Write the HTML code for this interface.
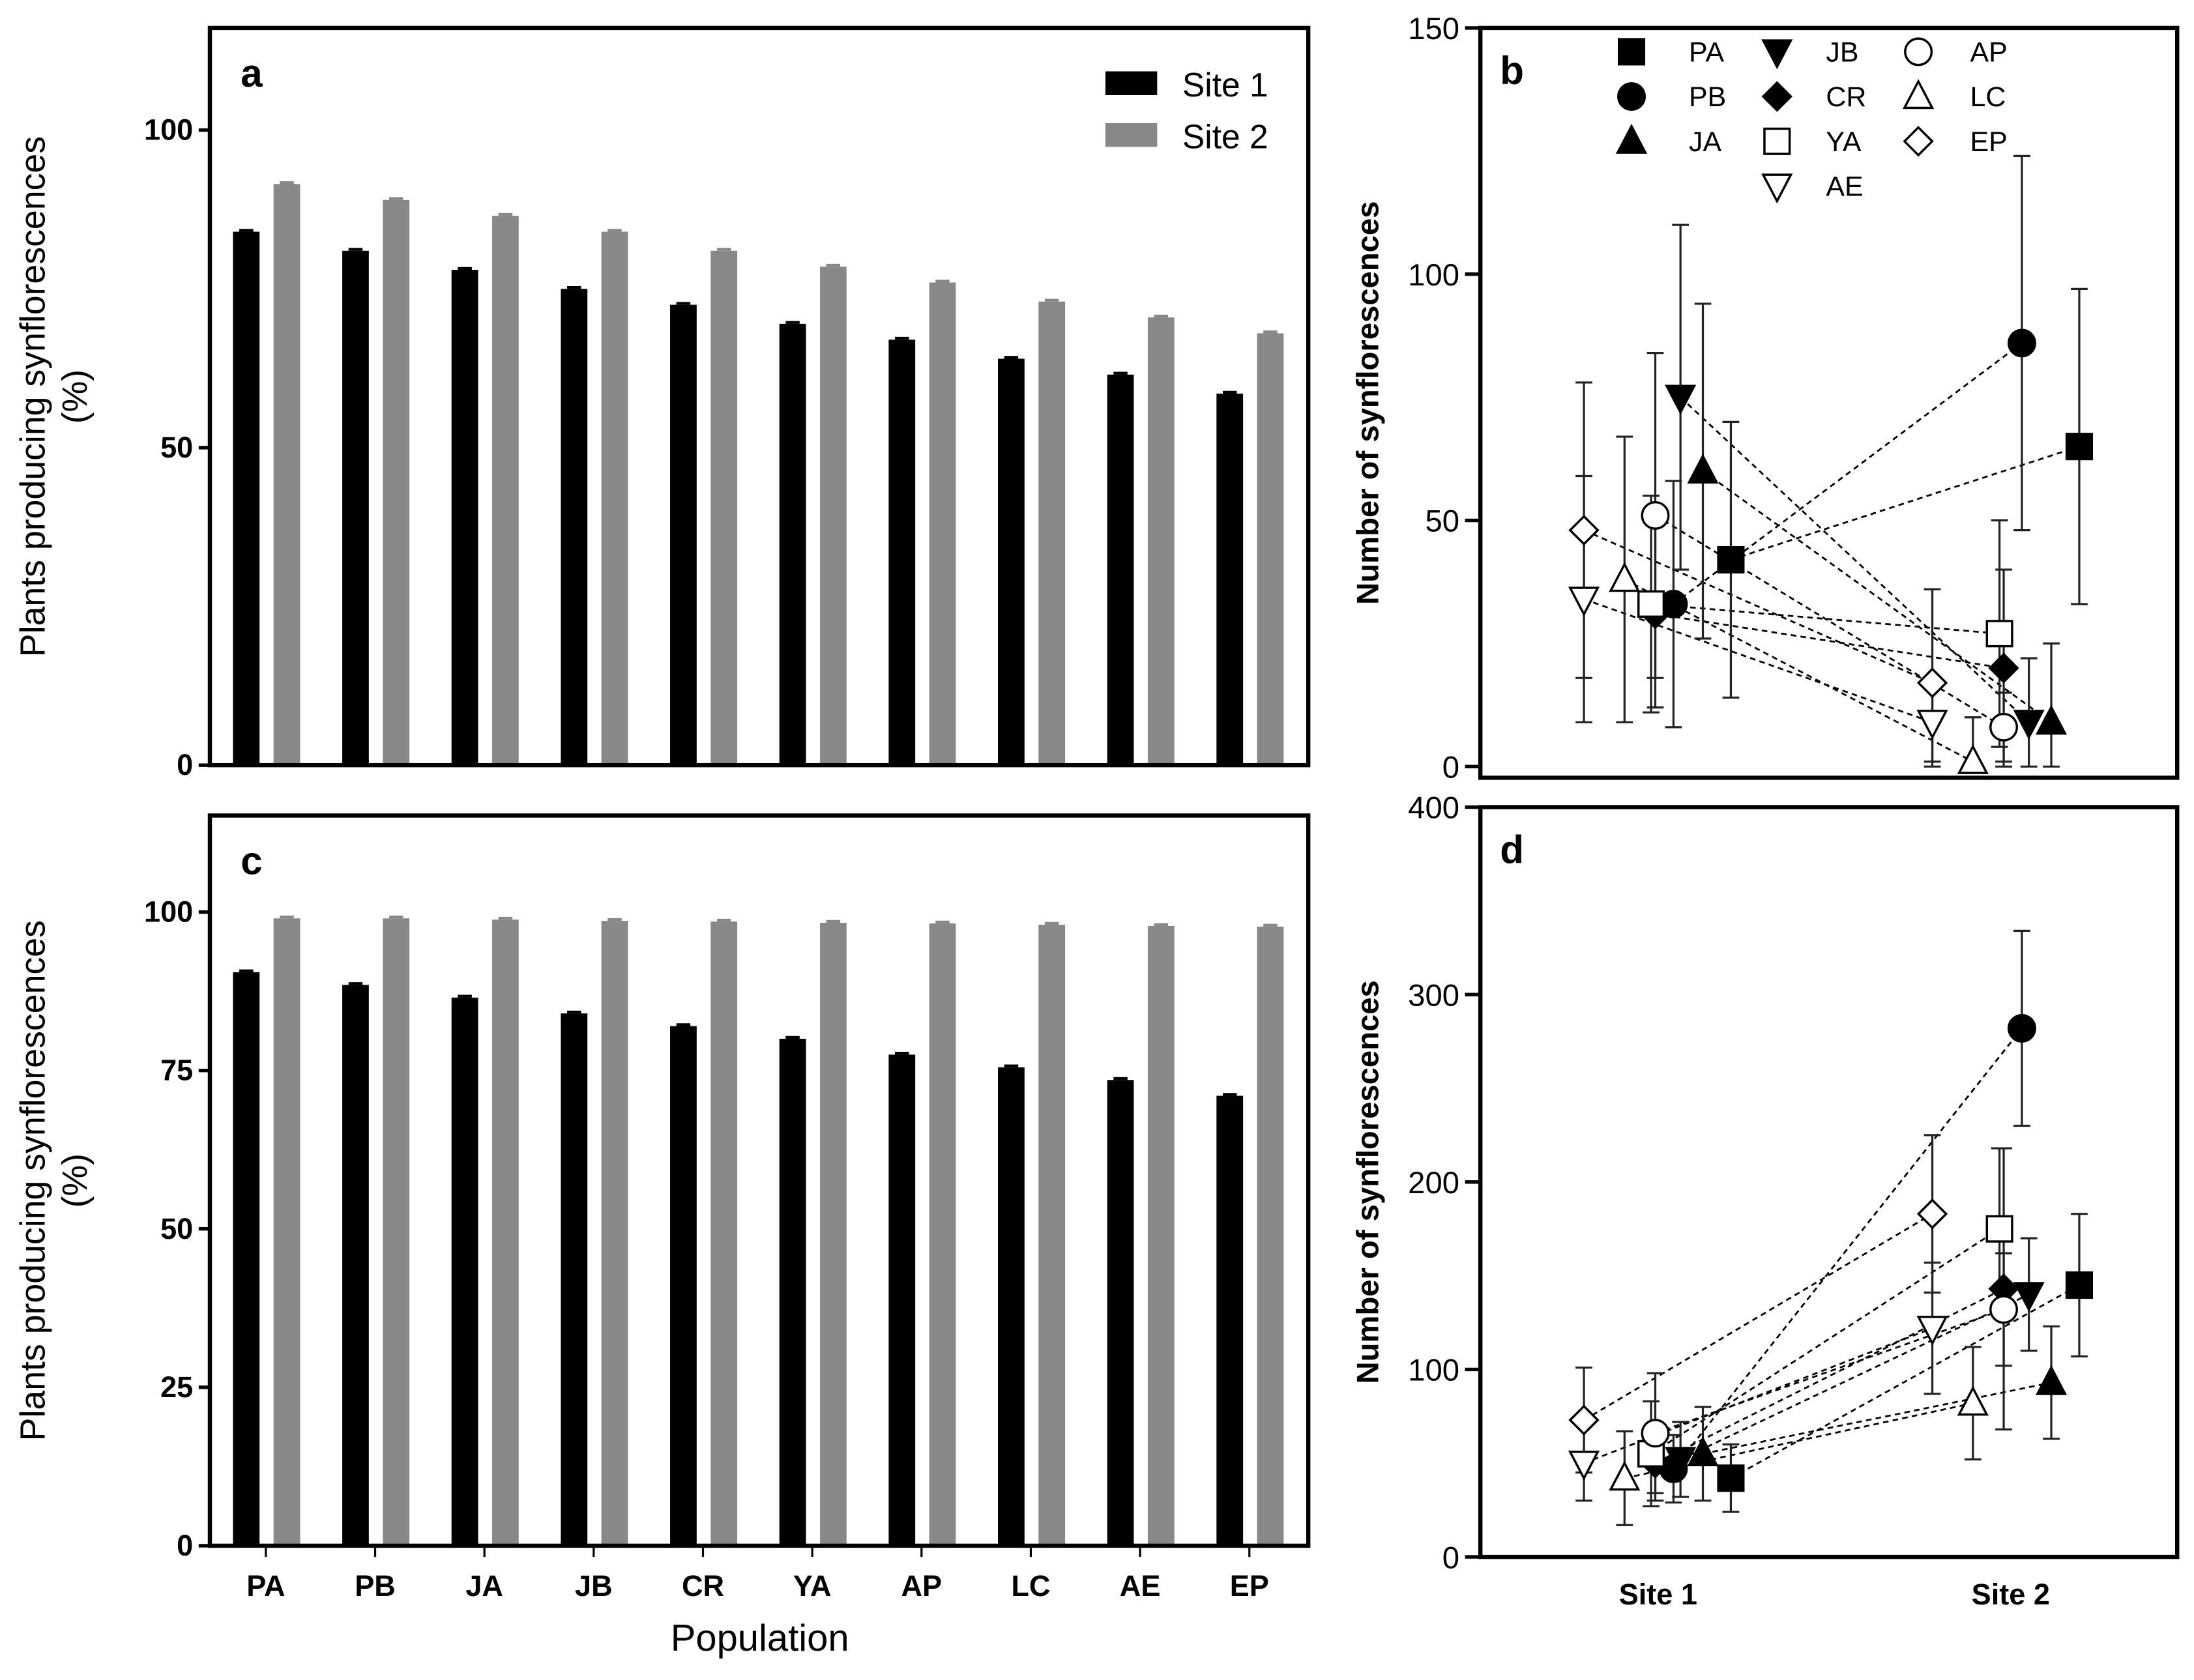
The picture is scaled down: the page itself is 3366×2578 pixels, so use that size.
<!DOCTYPE html>
<html><head><meta charset="utf-8"><style>html,body{margin:0;padding:0;background:#fff}svg{display:block}</style></head>
<body>
<svg id="fig" xmlns="http://www.w3.org/2000/svg" width="3366" height="2578" viewBox="0 0 1568 1201" preserveAspectRatio="none" font-family="Liberation Sans, Arial, sans-serif">
<rect width="1568" height="1201" fill="#fff"/>
</svg>
<script>
const populations=["PA","PB","JA","JB","CR","YA","AP","LC","AE","EP"];
const aSite1=[84,81,78,75,72.5,69.5,67,64,61.5,58.5];
const aSite2=[91.5,89,86.5,84,81,78.5,76,73,70.5,68];
const cSite1=[90.5,88.5,86.5,84,82,80,77.5,75.5,73.5,71];
const cSite2=[99,99,98.8,98.6,98.5,98.3,98.2,98,97.8,97.7];
const aTicks=[0,50,100];
const cTicks=[0,25,50,75,100];
const bTicks=[0,50,100,150];
const dTicks=[0,100,200,300,400];
const bMean1=[42,33,60,75,31,33,51,38,34,48];
const bErr1=[28,25,34,35,19,22,33,29,25,30];
const bMean2=[65,86,9,9,20,27,8,1,9,17];
const bErr2=[32,38,16,13,20,23,7,9,8,19];
const dMean1=[42,47,55,52,50,55,66,42,50,73];
const dErr1=[18,18,25,20,20,28,32,25,20,28];
const dMean2=[145,282,93,140,143,175,132,82,122,183];
const dErr2=[38,52,30,30,75,43,30,30,35,42];
const markers=["sqF","ciF","tuF","tdF","diF","sqO","ciO","tuO","tdO","diO"];
const jitter=[54,13,34,18,0,-3,0,-22,-51,-51];

const NS="http://www.w3.org/2000/svg";
const svg=document.getElementById('fig');
function el(tag,attrs,parent,txt){const e=document.createElementNS(NS,tag);for(const k in attrs)e.setAttribute(k,attrs[k]);if(txt!==undefined)e.textContent=txt;(parent||svg).appendChild(e);return e;}

function barPanel(name,letter,top,y0,y100,ticks,s1,s2,showX){
  const g=el('g',{},svg);
  
  
  const L=150,R=935;
  const y=v=>y0-(y0-y100)*v/100;
  const gx=i=>190+i*78.1;
  populations.forEach((p,i)=>{
    [[s1,'#000',-14,'site1'],[s2,'#888',15,'site2']].forEach(([arr,col,off,nm])=>{
      const x=gx(i)+off, yv=y(arr[i]);
      const b=el('rect',{x:x-9.5,y:yv,width:19,height:y0-yv,fill:col},g);
      
      
      el('line',{x1:x-5,x2:x+5,y1:yv-1,y2:yv-1,stroke:col,'stroke-width':2},g);
    });
    if(showX){
      el('line',{x1:gx(i),x2:gx(i),y1:y0,y2:y0+8,stroke:'#000','stroke-width':1.5},g);
      const t=el('text',{x:gx(i),y:y0+36,'text-anchor':'middle','font-size':21,'font-weight':'bold'},g,p);
      
      
    }
  });
  el('rect',{x:L,y:top,width:R-L,height:y0-top,fill:'none',stroke:'#000','stroke-width':3},g);
  ticks.forEach(v=>{
    el('line',{x1:L-8,x2:L,y1:y(v),y2:y(v),stroke:'#000','stroke-width':2.5},g);
    const t=el('text',{x:L-12,y:y(v)+7,'text-anchor':'end','font-size':21,'font-weight':'bold'},g,v);
    
    
  });
  const yt=el('text',{transform:`translate(32,${(top+y0)/2}) rotate(-90)`,'text-anchor':'middle','font-size':25},g);
  
  
  el('tspan',{x:0,dy:0},yt,'Plants producing synflorescences');
  el('tspan',{x:0,dy:30},yt,'(%)');
  const lt=el('text',{x:172,y:top+42,'font-size':28,'font-weight':'bold'},g,letter);
  
  
}
barPanel('panel-a','a',20,547,93,aTicks,aSite1,aSite2,false);
barPanel('panel-c','c',583,1105,652,cTicks,cSite1,cSite2,true);
const xt=el('text',{x:543,y:1180,'text-anchor':'middle','font-size':27},svg,'Population');


const lg=el('g',{},svg);


el('rect',{x:790,y:51,width:37,height:17,fill:'#000'},lg);
el('text',{x:845,y:69,'font-size':24},lg,'Site 1');
el('rect',{x:790,y:88,width:37,height:17,fill:'#888'},lg);
el('text',{x:845,y:106,'font-size':24},lg,'Site 2');

function marker(g,type,x,y,s){
  const fill=type.endsWith('F')?'#000':'#fff';
  const a={fill:fill,stroke:'#000','stroke-width':1.6};
  const k=type.slice(0,2);let m;
  if(k==='sq')m=el('rect',Object.assign({x:x-s,y:y-s,width:2*s,height:2*s},a),g);
  else if(k==='ci')m=el('circle',Object.assign({cx:x,cy:y,r:s*1.05},a),g);
  else if(k==='tu')m=el('polygon',Object.assign({points:`${x},${y-s*1.2} ${x-s*1.1},${y+s*0.9} ${x+s*1.1},${y+s*0.9}`},a),g);
  else if(k==='td')m=el('polygon',Object.assign({points:`${x},${y+s*1.2} ${x-s*1.1},${y-s*0.9} ${x+s*1.1},${y-s*0.9}`},a),g);
  else m=el('polygon',Object.assign({points:`${x},${y-s*1.1} ${x+s*1.1},${y} ${x},${y+s*1.1} ${x-s*1.1},${y}`},a),g);
  return m;
}

function dotPanel(name,letter,top,bottom,y0,yMax,maxV,ticks,m1,e1,m2,e2,showX){
  const g=el('g',{},svg);
  
  
  const L=1058,R=1556,X1=1183,X2=1432;
  const y=v=>y0-(y0-yMax)*v/maxV;
  populations.forEach((p,i)=>{
    const xa=X1+jitter[i],xb=X2+jitter[i];
    const ln=el('line',{x1:xa,y1:y(m1[i]),x2:xb,y2:y(m2[i]),stroke:'#000','stroke-width':1.3,'stroke-dasharray':'4,3'},g);
    
    
  });
  populations.forEach((p,i)=>{
    [[X1,m1,e1],[X2,m2,e2]].forEach(([X,m,e])=>{
      const x=X+jitter[i];
      const lo=Math.max(0,m[i]-e[i]),hi=m[i]+e[i];
      el('line',{x1:x,x2:x,y1:y(lo),y2:y(hi),stroke:'#222','stroke-width':1.5},g);
      el('line',{x1:x-6,x2:x+6,y1:y(lo),y2:y(lo),stroke:'#222','stroke-width':1.5},g);
      el('line',{x1:x-6,x2:x+6,y1:y(hi),y2:y(hi),stroke:'#222','stroke-width':1.5},g);
    });
  });
  populations.forEach((p,i)=>{
    [[X1,m1],[X2,m2]].forEach(([X,m])=>{
      const mk=marker(g,markers[i],X+jitter[i],y(m[i]),9);
      
      
    });
  });
  el('rect',{x:L,y:top,width:R-L,height:bottom-top,fill:'none',stroke:'#000','stroke-width':3},g);
  ticks.forEach(v=>{
    el('line',{x1:L-11,x2:L,y1:y(v),y2:y(v),stroke:'#000','stroke-width':2.5},g);
    const t=el('text',{x:L-15,y:y(v)+8,'text-anchor':'end','font-size':22},g,v);
    
    
  });
  const yt=el('text',{transform:`translate(985,${(top+bottom)/2}) rotate(-90)`,'text-anchor':'middle','font-size':22,'font-weight':'bold'},g,'Number of synflorescences');
  
  
  const lt=el('text',{x:1072,y:top+40,'font-size':28,'font-weight':'bold'},g,letter);
  
  
  if(showX){
    [[1185,'Site 1'],[1437,'Site 2']].forEach(([X,s])=>{
      const t=el('text',{x:X,y:1147,'text-anchor':'middle','font-size':21,'font-weight':'bold'},g,s);
      
      
    });
  }
}
dotPanel('panel-b','b',20,556,548,20,150,bTicks,bMean1,bErr1,bMean2,bErr2,false);
dotPanel('panel-d','d',577,1113,1113,577,400,dTicks,dMean1,dErr1,dMean2,dErr2,true);

const lb=el('g',{},svg);


const legPos=[[0,0],[0,1],[0,2],[1,0],[1,1],[1,2],[2,0],[2,1],[1,3],[2,2]];
populations.forEach((p,i)=>{
  const [c,r]=legPos[i];
  const mx=[1166,1270,1371][c], lx=[1207,1305,1408][c], yy=37+r*32;
  marker(lb,markers[i],mx,yy,9);
  const t=el('text',{x:lx,y:yy+7,'font-size':20},lb,p);
  
  
});
</script>
</body></html>
